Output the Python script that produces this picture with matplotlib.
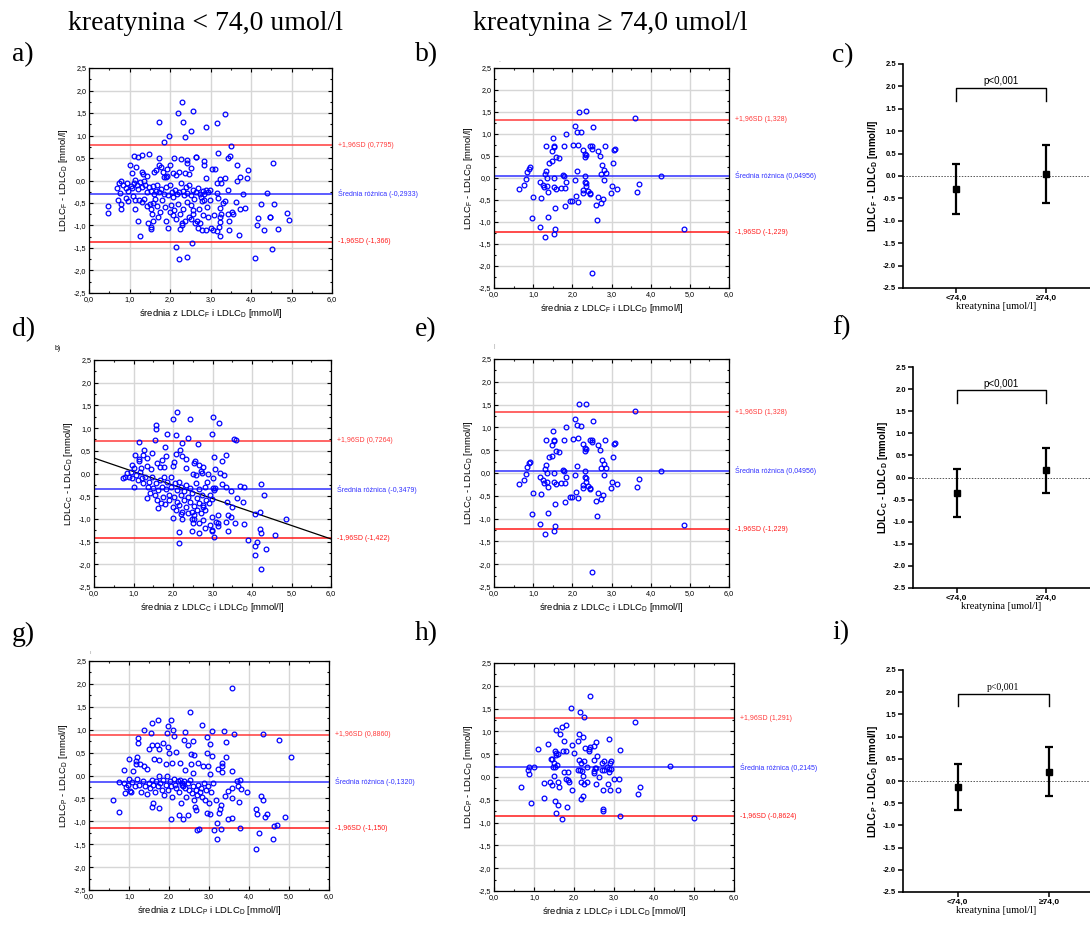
import numpy as np
import matplotlib
matplotlib.use("Agg")
import matplotlib.pyplot as plt
import matplotlib.transforms as mtransforms
from matplotlib.ticker import FuncFormatter, MultipleLocator

plt.rcParams['font.family'] = ['Liberation Sans', 'DejaVu Sans']
plt.rcParams['mathtext.default'] = 'regular'

# ---- dane: (srednia, roznica) ----
a_points = [(2.29, 1.74), (2.19, 1.51), (2.57, 1.54), (3.35, 1.47), (1.72, 1.29), (2.32, 1.29), (3.17, 1.27),
            (2.89, 1.19), (2.53, 1.11), (1.98, 0.99), (2.38, 0.97), (1.85, 0.85), (3.50, 0.76),
            (1.11, 0.54), (1.20, 0.52), (1.30, 0.57), (1.49, 0.59), (1.72, 0.49), (2.10, 0.50), (2.26, 0.48),
            (2.43, 0.45), (2.63, 0.52), (2.65, 0.52), (2.83, 0.43), (3.18, 0.61), (3.47, 0.54), (3.43, 0.49),
            (3.65, 0.34), (3.92, 0.23), (4.54, 0.39), (3.90, 0.06), (3.65, 0.00), (3.73, 0.07), (3.37, 0.06),
            (3.24, 0.03), (3.16, -0.06), (3.26, -0.06), (3.42, -0.20), (3.15, -0.28), (3.18, -0.38), (3.37, -0.46),
            (3.62, -0.47), (3.54, -0.71), (3.56, -0.74), (3.45, -0.89), (3.73, -0.63), (3.84, -0.60), (3.80, -0.31),
            (4.40, -0.27), (4.24, -0.53), (4.56, -0.53), (4.17, -0.83), (4.15, -0.98), (4.46, -0.80), (4.47, -0.81),
            (4.88, -0.73), (4.93, -0.87), (4.66, -1.07), (4.33, -1.09), (3.70, -1.22), (3.45, -1.11), (3.24, -1.23),
            (3.16, -1.12), (3.01, -1.06), (3.06, -1.09), (4.09, -1.72), (4.51, -1.53), (2.14, -1.47), (2.55, -1.40),
            (2.21, -1.75), (2.43, -1.69), (1.26, -1.24), (1.52, -1.03), (1.53, -1.08), (1.20, -0.89), (1.14, -0.64),
            (0.78, -0.64), (0.78, -0.53), (0.47, -0.57), (0.47, -0.72), (0.72, -0.44), (0.76, -0.28), (0.69, -0.16),
            (0.74, -0.06), (0.78, 0.00), (1.01, 0.34), (1.05, 0.17), (1.16, 0.30), (1.11, -0.06),
            (1.61, 0.18), (1.65, 0.23), (1.74, 0.34), (1.78, 0.29), (1.82, 0.20), (1.86, 0.08), (1.89, 0.07),
            (1.93, 0.09), (1.99, 0.34), (2.08, 0.17), (2.14, 0.13), (2.22, 0.18), (2.37, 0.17), (2.46, 0.14),
            (2.53, 0.27), (2.85, 0.34), (2.88, 0.06), (3.04, 0.26), (3.12, 0.26), (2.43, 0.40), (1.92, 0.25),
            (1.44, 0.11), (1.32, 0.20), (1.34, 0.14),
            (0.84, -0.09), (0.91, -0.16), (0.94, -0.06), (0.97, -0.24), (1.03, -0.12), (1.07, -0.17), (1.13, 0.01),
            (1.18, -0.11), (1.21, -0.19), (1.25, -0.04), (1.30, -0.15), (1.35, 0.00), (1.39, -0.11), (1.42, -0.26),
            (1.48, -0.15), (1.52, -0.23), (1.57, -0.12), (1.61, -0.31), (1.65, -0.23), (1.69, -0.11), (1.74, -0.26),
            (1.79, -0.18), (1.84, -0.29), (1.89, -0.14), (1.94, -0.33), (2.00, -0.11), (2.04, -0.26), (2.08, -0.37),
            (2.13, -0.20), (2.17, -0.29), (2.22, -0.26), (2.27, -0.06), (2.31, -0.23), (2.35, -0.33), (2.39, -0.14),
            (2.43, -0.28), (2.48, -0.09), (2.52, -0.33), (2.56, -0.22), (2.60, -0.40), (2.64, -0.26), (2.69, -0.16),
            (2.73, -0.29), (2.77, -0.37), (2.81, -0.23), (2.85, -0.31), (2.90, -0.20), (2.95, -0.26), (2.99, -0.20),
            (2.84, -0.44), (2.79, -0.46),
            (0.91, -0.39), (0.96, -0.46), (1.09, -0.35), (1.14, -0.44), (1.23, -0.43), (1.32, -0.48), (1.37, -0.42),
            (1.43, -0.56), (1.50, -0.53), (1.54, -0.63), (1.59, -0.49), (1.63, -0.41), (1.69, -0.57), (1.75, -0.69),
            (1.80, -0.43), (1.87, -0.59), (1.90, -0.89), (1.94, -1.06), (1.99, -0.70), (2.03, -0.55), (2.07, -0.77),
            (2.11, -0.66), (2.16, -0.85), (2.19, -0.53), (2.24, -0.74), (2.29, -0.94), (2.29, -1.00), (2.25, -1.07),
            (2.33, -0.63), (2.38, -0.89), (2.43, -0.48), (2.46, -0.80), (2.51, -0.55), (2.53, -0.85), (2.56, -0.65),
            (2.58, -0.74), (2.62, -0.94), (2.66, -0.89), (2.68, -1.05), (2.71, -0.63), (2.75, -0.94), (2.79, -1.09),
            (2.82, -0.77), (2.89, -1.09), (2.91, -0.59), (2.95, -0.80), (2.99, -0.44), (3.08, -0.77), (3.23, -0.60),
            (3.24, -0.81), (3.24, -0.92), (3.21, -1.03), (3.26, -0.74), (3.43, -0.74), (3.30, -0.51), (1.70, -0.81),
            (1.56, -0.74), (1.46, -0.94), (1.57, -0.89)]

be_points = [(2.18, 1.51), (2.35, 1.52), (3.60, 1.37), (2.54, 1.15), (2.08, 1.19), (2.12, 1.05), (2.23, 1.04),
             (1.83, 1.00), (1.51, 0.92), (1.34, 0.73), (1.53, 0.73), (1.54, 0.70), (1.79, 0.72), (2.02, 0.74),
             (2.15, 0.76), (2.44, 0.73), (2.50, 0.72), (2.50, 0.67), (2.84, 0.73), (2.27, 0.64), (2.65, 0.61),
             (3.09, 0.66), (3.06, 0.63), (1.47, 0.61), (1.58, 0.48), (1.66, 0.45), (1.49, 0.38), (1.41, 0.34),
             (2.33, 0.55), (2.34, 0.52), (2.33, 0.48), (2.71, 0.51), (2.75, 0.29), (3.03, 0.34), (2.80, 0.19),
             (2.85, 0.11), (2.73, 0.10), (2.81, -0.04), (2.12, 0.16), (2.33, 0.04), (1.33, 0.17), (1.29, 0.09),
             (0.93, 0.25), (0.89, 0.21), (0.85, 0.14), (0.82, -0.02), (0.77, -0.15), (0.65, -0.25), (0.99, -0.44),
             (1.20, -0.46), (1.18, -0.09), (1.25, -0.15), (1.28, -0.21), (1.36, -0.19), (1.37, -0.31), (1.36, -0.01),
             (1.52, -0.01), (1.53, -0.20), (1.58, -0.24), (1.70, -0.22), (1.75, 0.06), (1.78, 0.05), (1.80, -0.23),
             (1.84, -0.08), (2.07, -0.05), (2.33, -0.08), (2.36, -0.12), (2.34, -0.19), (2.28, -0.27), (2.27, -0.33),
             (2.41, -0.29), (2.46, -0.33), (2.46, -0.36), (2.10, -0.41), (1.94, -0.52), (1.98, -0.52), (2.14, -0.55),
             (1.81, -0.63), (1.56, -0.69), (2.65, -0.44), (2.79, -0.48), (2.72, -0.57), (2.61, -0.61), (3.01, -0.19),
             (2.98, -0.33), (3.13, -0.24), (3.69, -0.14), (3.64, -0.31), (4.26, 0.05), (0.98, -0.90), (1.37, -0.88),
             (2.63, -0.95), (1.17, -1.11), (1.55, -1.17), (1.52, -1.27), (1.30, -1.34), (4.86, -1.15), (2.50, -2.17)]

d_points = [(2.10, 1.36), (2.01, 1.20), (2.42, 1.20), (3.00, 1.25), (3.16, 1.11), (1.56, 1.07), (1.56, 0.98),
            (2.98, 0.88), (1.85, 0.87), (2.08, 0.85), (2.38, 0.79), (3.55, 0.76), (3.59, 0.73), (1.54, 0.74),
            (1.14, 0.70), (2.63, 0.65), (2.22, 0.67), (1.81, 0.59), (2.17, 0.52), (1.46, 0.46), (1.04, 0.41),
            (2.07, 0.43), (2.22, 0.39), (3.05, 0.37), (3.35, 0.40), (3.23, 0.28), (2.34, 0.32), (2.56, 0.28),
            (2.54, 0.24), (2.77, 0.15), (3.07, 0.10), (2.67, 0.19), (2.03, 0.26), (1.99, 0.17), (1.82, 0.39),
            (1.72, 0.29), (1.60, 0.23), (1.34, 0.34), (1.33, 0.17), (1.13, 0.32), (1.14, 0.28), (1.26, 0.52),
            (1.24, 0.41), (0.95, 0.18), (1.02, 0.12), (1.19, 0.12), (1.45, 0.10), (1.67, 0.14), (1.78, 0.15),
            (2.32, 0.13), (2.51, -0.02), (2.59, -0.04), (2.72, 0.06), (2.73, 0.02), (2.88, -0.01), (3.00, -0.10),
            (3.20, 0.01), (3.29, -0.04), (3.25, -0.23), (3.07, -0.32), (3.05, -0.36), (3.35, -0.30), (3.69, -0.27),
            (3.79, -0.29), (4.23, -0.24), (4.31, -0.47), (3.46, -0.38), (3.37, -0.62), (3.62, -0.53), (3.77, -0.62),
            (3.49, -0.74), (3.39, -0.91), (3.46, -0.95), (3.34, -1.06), (3.10, -1.06), (3.15, -1.09), (3.13, -1.15),
            (3.14, -0.92), (2.98, -0.96), (2.82, -0.80), (2.93, -1.14), (2.98, -1.24), (2.99, -1.26), (3.04, -1.40),
            (2.82, -1.19), (3.57, -1.09), (3.79, -1.11), (3.38, -1.27), (4.07, -0.89), (4.19, -0.84), (4.85, -1.01),
            (4.21, -1.22), (4.22, -1.32), (4.57, -1.36), (3.90, -1.47), (4.12, -1.50), (4.08, -1.60), (4.35, -1.67),
            (4.07, -1.80), (4.23, -2.11), (2.14, -1.54), (2.15, -1.28), (2.48, -1.27), (2.67, -1.32), (2.51, -1.10),
            (2.65, -1.09), (2.54, -1.01), (2.77, -1.02), (2.47, -1.00), (2.24, -1.01), (2.00, -0.98), (2.19, -0.89),
            (2.75, -0.70),
            (0.73, -0.11), (0.78, -0.07), (0.84, 0.01), (0.89, -0.07), (0.93, 0.04), (0.96, -0.10), (1.02, -0.29),
            (1.07, -0.03), (1.12, -0.14), (1.16, 0.04), (1.21, -0.10), (1.24, -0.21), (1.29, -0.07), (1.33, -0.53),
            (1.37, -0.29), (1.40, -0.18), (1.42, -0.43), (1.46, -0.07), (1.50, -0.32), (1.54, -0.47), (1.56, -0.21),
            (1.60, -0.58), (1.61, -0.77), (1.63, -0.36), (1.67, -0.14), (1.70, -0.65), (1.73, -0.29), (1.75, -0.51),
            (1.78, -0.07), (1.81, -0.67), (1.83, -0.34), (1.86, -0.18), (1.89, -0.47), (1.90, -0.58), (1.94, -0.07),
            (1.96, -0.29), (1.99, -0.73), (2.02, -0.51), (2.05, -0.21), (2.07, -0.80), (2.09, -0.62), (2.11, -0.36),
            (2.14, -0.18), (2.16, -0.69), (2.19, -0.48), (2.21, -0.29), (2.24, -0.84), (2.27, -0.58), (2.29, -0.39),
            (2.32, -0.25), (2.34, -0.73), (2.37, -0.51), (2.39, -0.87), (2.42, -0.32), (2.44, -0.62), (2.47, -0.84),
            (2.49, -0.43), (2.52, -0.91), (2.54, -0.71), (2.57, -0.21), (2.60, -0.54), (2.62, -0.80), (2.65, -0.35),
            (2.67, -0.65), (2.70, -0.87), (2.73, -0.47), (2.76, -0.74), (2.80, -0.29), (2.83, -0.58), (2.87, -0.18),
            (2.90, -0.65), (2.93, -0.47), (2.98, -0.57), (3.02, -0.32)]

g_points = [(3.58, 1.92), (2.53, 1.38), (1.73, 1.22), (2.06, 1.22), (1.58, 1.15), (2.82, 1.11), (1.98, 1.07),
            (2.11, 1.00), (1.38, 0.99), (2.41, 0.95), (3.07, 0.97), (3.38, 0.97), (1.56, 0.92), (1.96, 0.92),
            (2.13, 0.87), (3.63, 0.91), (4.34, 0.90), (2.96, 0.84), (1.23, 0.82), (4.75, 0.77), (2.38, 0.77),
            (2.60, 0.75), (3.43, 0.73), (1.23, 0.70), (1.86, 0.70), (1.58, 0.66), (1.71, 0.66), (1.98, 0.63),
            (2.47, 0.66), (3.03, 0.68), (1.49, 0.57), (1.74, 0.58), (2.17, 0.52), (1.99, 0.50), (2.56, 0.48),
            (2.96, 0.50), (3.08, 0.43), (2.62, 0.44), (3.43, 0.40), (5.04, 0.41), (1.01, 0.37), (1.21, 0.40),
            (1.63, 0.37), (1.76, 0.34), (1.18, 0.32), (3.33, 0.28), (1.17, 0.26), (1.28, 0.26), (1.92, 0.25),
            (2.07, 0.28), (2.27, 0.27), (2.55, 0.26), (2.72, 0.27), (2.86, 0.20), (2.97, 0.21), (3.33, 0.20),
            (1.38, 0.20), (1.45, 0.15), (0.88, 0.12), (3.58, 0.10), (3.23, 0.14), (2.41, 0.13), (1.11, 0.09),
            (3.32, 0.07), (2.59, 0.05), (3.03, 0.04), (1.00, -0.07), (3.70, -0.12), (3.78, -0.09), (0.74, -0.15),
            (0.61, -0.53), (0.75, -0.79), (0.89, -0.39), (1.06, -0.36), (3.94, -0.36), (3.81, -0.30), (3.73, -0.24),
            (3.58, -0.28), (3.48, -0.34), (3.40, -0.44), (3.74, -0.57), (3.58, -0.49), (3.18, -0.53), (3.30, -0.64),
            (3.28, -0.73), (3.24, -0.82), (3.58, -0.93), (3.48, -0.96), (2.96, -0.81), (3.03, -0.84), (2.04, -0.95),
            (2.35, -0.96), (2.48, -0.87), (2.24, -0.87), (1.74, -0.70), (1.58, -0.68), (1.60, -0.59), (2.30, -0.61),
            (2.68, -0.75), (2.66, -0.69), (3.21, -1.03), (2.69, -1.19), (2.75, -1.17), (3.13, -1.19), (3.29, -1.17),
            (3.19, -1.39), (3.78, -1.14), (4.26, -1.25), (4.17, -1.61), (4.60, -1.38), (4.18, -0.73), (4.20, -0.84),
            (4.29, -0.45), (4.35, -0.53), (4.46, -0.85), (4.41, -0.91), (4.91, -0.90), (4.63, -1.10), (4.70, -1.09),
            (0.88, -0.17), (0.93, -0.26), (0.98, -0.20), (1.03, -0.33), (1.08, -0.14), (1.14, -0.24), (1.20, -0.08),
            (1.25, -0.20), (1.31, -0.35), (1.35, -0.13), (1.40, -0.24), (1.45, -0.40), (1.50, -0.17), (1.53, -0.28),
            (1.57, -0.09), (1.61, -0.20), (1.65, -0.35), (1.68, -0.13), (1.72, -0.24), (1.75, -0.02), (1.78, -0.17),
            (1.82, -0.31), (1.85, -0.09), (1.88, -0.42), (1.92, -0.20), (1.95, -0.02), (1.98, -0.31), (2.02, -0.13),
            (2.05, -0.24), (2.08, -0.46), (2.12, -0.08), (2.15, -0.20), (2.18, -0.28), (2.22, -0.13), (2.25, -0.35),
            (2.28, -0.09), (2.32, -0.20), (2.33, -0.17), (2.35, -0.23), (2.38, -0.13), (2.40, -0.28), (2.43, -0.46),
            (2.47, -0.17), (2.50, -0.31), (2.53, -0.09), (2.57, -0.39), (2.60, -0.24), (2.63, -0.53), (2.67, -0.31),
            (2.70, -0.42), (2.73, -0.20), (2.77, -0.35), (2.80, -0.28), (2.83, -0.46), (2.87, -0.17), (2.90, -0.53),
            (2.93, -0.31), (2.97, -0.24), (3.00, -0.59), (3.05, -0.35), (3.10, -0.17)]

h_points = [(2.39, 1.78), (1.93, 1.52), (2.14, 1.43), (2.26, 1.32), (3.52, 1.21), (1.79, 1.13), (1.70, 1.10),
            (1.55, 1.03), (1.65, 0.94), (2.12, 0.94), (2.22, 0.88), (2.88, 0.83), (1.75, 0.80), (2.09, 0.79),
            (2.55, 0.77), (1.35, 0.72), (1.94, 0.70), (2.49, 0.69), (2.41, 0.66), (1.09, 0.61), (2.28, 0.63),
            (2.38, 0.61), (3.15, 0.59), (1.52, 0.58), (1.72, 0.58), (1.80, 0.57), (2.37, 0.56), (1.56, 0.52),
            (1.60, 0.51), (2.01, 0.53), (1.55, 0.48), (2.58, 0.45), (1.42, 0.39), (1.44, 0.39), (2.12, 0.37),
            (2.26, 0.36), (2.50, 0.37), (2.76, 0.34), (2.93, 0.34), (2.89, 0.30), (2.70, 0.31), (2.17, 0.30),
            (1.51, 0.30), (1.57, 0.26), (1.48, 0.23), (1.52, 0.21), (0.87, 0.22), (1.00, 0.23), (4.39, 0.24),
            (2.83, 0.23), (2.32, 0.21), (2.52, 0.20), (2.56, 0.19), (2.70, 0.16), (2.76, 0.16), (2.87, 0.18),
            (2.93, 0.18), (2.16, 0.15), (2.20, 0.14), (2.11, 0.16), (2.49, 0.13), (2.87, 0.12), (0.85, 0.16),
            (0.87, 0.06), (1.75, 0.12), (1.84, 0.11), (2.49, 0.08), (1.49, 0.02), (2.22, 0.02), (2.62, 0.00),
            (1.80, -0.05), (1.86, -0.07), (1.88, -0.11), (3.01, -0.04), (3.13, -0.04), (0.67, -0.22), (1.25, -0.13),
            (1.40, -0.11), (1.45, -0.18), (1.59, -0.11), (1.62, -0.22), (2.18, -0.11), (2.25, -0.15), (2.32, -0.11),
            (2.56, -0.15), (2.84, -0.15), (3.64, -0.23), (2.73, -0.28), (2.90, -0.29), (3.11, -0.29), (1.95, -0.29),
            (3.60, -0.38), (1.24, -0.45), (2.22, -0.42), (2.18, -0.48), (0.92, -0.56), (1.53, -0.53), (1.60, -0.61),
            (1.82, -0.66), (2.73, -0.71), (2.73, -0.75), (1.56, -0.80), (3.15, -0.86), (1.69, -0.93), (4.99, -0.91)]

# linie: +1,96SD, srednia roznica, -1,96SD
a_lines = [0.7795, -0.2933, -1.366]
a_texts = ['+1,96SD (0,7795)', 'Średnia różnica (-0,2933)', '-1,96SD (-1,366)']
be_lines = [1.328, 0.04956, -1.229]
be_texts = ['+1,96SD (1,328)', 'Średnia różnica (0,04956)', '-1,96SD (-1,229)']
d_lines = [0.7264, -0.3479, -1.422]
d_texts = ['+1,96SD (0,7264)', 'Średnia różnica (-0,3479)', '-1,96SD (-1,422)']
g_lines = [0.8860, -0.1320, -1.150]
g_texts = ['+1,96SD (0,8860)', 'Średnia różnica (-0,1320)', '-1,96SD (-1,150)']
h_lines = [1.291, 0.2145, -0.8624]
h_texts = ['+1,96SD (1,291)', 'Średnia różnica (0,2145)', '-1,96SD (-0,8624)']
d_reg = (0.34, -0.297)  # wyraz wolny, nachylenie

# panele c, f, i
groups = ['<74,0', '≥74,0']
c_mean, c_lo, c_hi = [-0.29, 0.05], [-0.85, -0.61], [0.26, 0.70]
f_mean, f_lo, f_hi = [-0.35, 0.17], [-0.90, -0.34], [0.20, 0.66]
i_mean, i_lo, i_hi = [-0.13, 0.21], [-0.66, -0.33], [0.39, 0.76]

W, H = 1090, 926
fig = plt.figure(figsize=(W / 100, H / 100), dpi=100)
serif = ['Liberation Serif', 'DejaVu Serif']
sans = ['Liberation Sans', 'DejaVu Sans']


def px_axes(l, t, r, b):
    return fig.add_axes([l / W, 1 - b / H, (r - l) / W, (b - t) / H])


def bland(box, pts, lines, texts, sub, reg=None):
    ax = px_axes(*box)
    x, y = np.array(pts).T
    ax.plot(x, y, 'o', ms=3.4, mfc='none', mec='#0000ff', mew=0.9, zorder=3, clip_on=False)
    cols = ['#ff3b3b', '#3030ff', '#ff1a1a']
    tr = mtransforms.blended_transform_factory(ax.transAxes, ax.transData)
    for v, t, c in zip(lines, texts, cols):
        ax.axhline(v, color=c, lw=1.1, zorder=2)
        ax.text(1.025, v, t, color=c, fontsize=5, va='center', ha='left', transform=tr, clip_on=False)
    if reg is not None:
        xx = np.array([0.0, 6.0])
        ax.plot(xx, reg[0] + reg[1] * xx, color='black', lw=0.9, zorder=2)
    ax.set_xlim(0, 6)
    ax.set_ylim(-2.5, 2.5)
    ax.set_xticks(np.arange(0, 6.01, 1))
    ax.set_yticks(np.arange(-2.5, 2.51, 0.5))
    ax.xaxis.set_minor_locator(MultipleLocator(0.5))
    ax.yaxis.set_minor_locator(MultipleLocator(0.25))
    fmt = FuncFormatter(lambda v, p: f"{v + 0:.1f}".replace('.', ','))
    ax.xaxis.set_major_formatter(fmt)
    ax.yaxis.set_major_formatter(fmt)
    ax.tick_params(which='both', direction='in', top=True, right=True, labelsize=5.2, pad=2, width=0.8)
    ax.tick_params(which='major', length=3)
    ax.tick_params(which='minor', length=1.5)
    ax.grid(color='#d6d6d6', lw=1, zorder=0)
    ax.set_axisbelow(True)
    for s in ax.spines.values():
        s.set_linewidth(0.9)
    ax.set_xlabel(f'średnia z LDLC$_{sub}$ i LDLC$_D$ [mmol/l]', fontsize=6.8, labelpad=3)
    ax.set_ylabel(f'LDLC$_{sub}$ - LDLC$_D$ [mmol/l]', fontsize=6.8, labelpad=3)
    return ax


def errpanel(box, xlim, mean, lo, hi, sub, pfont):
    ax = px_axes(*box)
    pos = np.arange(len(groups))
    m = np.array(mean)
    err = [m - np.array(lo), np.array(hi) - m]
    ax.axhline(0, color='#555555', lw=0.7, ls=(0, (1.5, 1.5)), zorder=1)
    ax.errorbar(pos, m, yerr=err, fmt='s', color='black', ms=5, elinewidth=1.6, capsize=3, capthick=1.6,
                zorder=3)
    ax.plot([0, 0, 1, 1], [1.68, 1.97, 1.97, 1.68], color='black', lw=1)
    ax.text(0.5, 2.0, 'p<0,001', ha='center', va='bottom', fontsize=7, family=pfont)
    ax.set_xlim(*xlim)
    ax.set_ylim(-2.5, 2.5)
    ax.set_xticks(pos)
    ax.set_xticklabels(groups, fontweight='bold', fontsize=6)
    ax.set_yticks(np.arange(-2.5, 2.51, 0.5))
    ax.yaxis.set_major_formatter(FuncFormatter(lambda v, p: f"{v + 0:.1f}"))
    for lab in ax.get_yticklabels():
        lab.set_fontweight('bold')
        lab.set_fontsize(5.5)
    ax.tick_params(axis='y', labelsize=5.5)
    ax.tick_params(length=3.5, width=1.1, pad=1.5)
    for s in ['top', 'right']:
        ax.spines[s].set_visible(False)
    for s in ['left', 'bottom']:
        ax.spines[s].set_linewidth(1.2)
    ax.set_xlabel('kreatynina [umol/l]', fontsize=7.5, family=serif, labelpad=0)
    ax.set_ylabel(f'LDLC$_{sub}$ - LDLC$_D$ [mmol/l]', fontsize=7, fontweight='bold', labelpad=2)
    return ax


bland((89, 68, 332, 293), a_points, a_lines, a_texts, 'F')
bland((494, 68, 729, 288), be_points, be_lines, be_texts, 'F')
bland((94, 360, 331, 587), d_points, d_lines, d_texts, 'C', reg=d_reg)
bland((494, 359, 729, 587), be_points, be_lines, be_texts, 'C')
bland((89, 661, 329, 890), g_points, g_lines, g_texts, 'P')
bland((494, 663, 734, 891), h_points, h_lines, h_texts, 'P')

errpanel((903, 64, 1090, 288), (-0.59, 1.49), c_mean, c_lo, c_hi, 'F', sans)
errpanel((913, 367, 1090, 588), (-0.49, 1.49), f_mean, f_lo, f_hi, 'C', sans)
errpanel((903, 670, 1090, 892), (-0.60, 1.45), i_mean, i_lo, i_hi, 'P', serif)

fig.text(68 / W, 1 - 23 / H, 'kreatynina < 74,0 umol/l', fontsize=20, family=serif, va='center')
fig.text(473 / W, 1 - 23 / H, 'kreatynina ≥ 74,0 umol/l', fontsize=20, family=serif, va='center')
letters = [('a)', 12, 55), ('b)', 415, 55), ('c)', 832, 56), ('d)', 12, 330), ('e)', 415, 330),
           ('f)', 832, 328), ('g)', 12, 634), ('h)', 415, 634), ('i)', 832, 633)]
for t, lx, ly in letters:
    fig.text(lx / W, 1 - ly / H, t, fontsize=20, family=serif, va='center')
fig.text(55 / W, 1 - 348 / H, 'b)', fontsize=5, va='center')
fig.text(494 / W, 1 - 347 / H, '|', fontsize=4, color='#999999', va='center')
fig.text(90 / W, 1 - 652 / H, 'ı', fontsize=4, color='#999999', va='center')
fig.text(499 / W, 1 - 62 / H, '-', fontsize=4, color='#999999', va='center')

fig.savefig('out.png', dpi=100)
